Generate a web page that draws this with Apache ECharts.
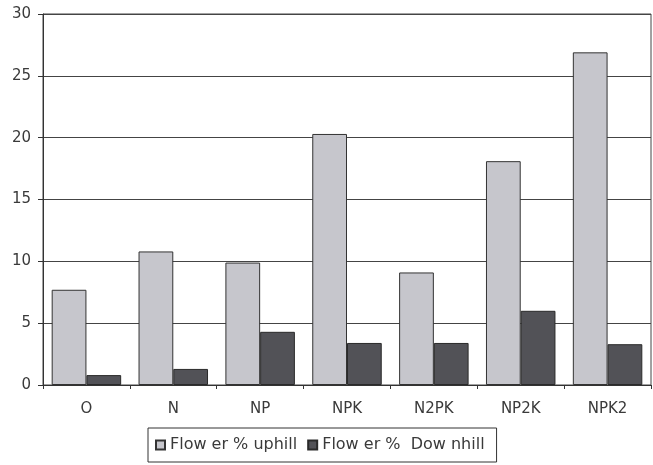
<!DOCTYPE html>
<html>
<head>
<meta charset="utf-8">
<script src="https://cdn.jsdelivr.net/npm/echarts@6/dist/echarts.min.js"></script>
<style>
  html, body { margin: 0; padding: 0; background: #fff; }
  #chart { width: 653px; height: 465px; }
</style>
</head>
<body>
<div id="chart"></div>
<script>
// Treatments and flowering percentages on the two slope positions
const categories = ['O', 'N', 'NP', 'NPK', 'N2PK', 'NP2K', 'NPK2'];
const uphill = [7.7, 10.8, 9.9, 20.3, 9.1, 18.1, 26.9];
const downhill = [0.8, 1.3, 4.3, 3.4, 3.4, 6.0, 3.3];
const seriesNames = ['Flow er % uphill', 'Flow er %  Dow nhill'];
const yTicks = { min: 0, max: 30, interval: 5 };

const font = '"DejaVu Sans", Verdana, sans-serif';
const chart = echarts.init(document.getElementById('chart'));

chart.setOption({
  animation: false,
  backgroundColor: '#ffffff',
  textStyle: { fontFamily: font },
  grid: {
    left: 43, right: 2, top: 14, bottom: 80,
    show: true, borderColor: '#444', borderWidth: 1
  },
  legend: {
    data: seriesNames,
    bottom: 3,
    left: 148,
    icon: 'rect',
    itemWidth: 9,
    itemHeight: 9,
    itemGap: 10,
    padding: [9, 12, 9, 7],
    borderColor: '#333',
    borderWidth: 1,
    textStyle: { fontFamily: font, fontSize: 16, color: '#3a3a3a' }
  },
  xAxis: {
    type: 'category',
    data: categories,
    axisLine: { lineStyle: { color: '#333', width: 1 } },
    axisTick: { show: true, length: 4, lineStyle: { color: '#333' } },
    axisLabel: { fontFamily: font, fontSize: 15, color: '#3a3a3a', margin: 17 }
  },
  yAxis: {
    type: 'value',
    min: yTicks.min, max: yTicks.max, interval: yTicks.interval,
    axisLine: { show: true, lineStyle: { color: '#333', width: 1 } },
    axisTick: { show: true, length: 5, lineStyle: { color: '#333' } },
    axisLabel: { fontFamily: font, fontSize: 15, color: '#3a3a3a', margin: 12 },
    splitLine: { show: true, lineStyle: { color: '#444', width: 1 } }
  },
  series: [
    {
      name: seriesNames[0],
      type: 'bar',
      data: uphill,
      barGap: '0%',
      barCategoryGap: '20%',
      itemStyle: { color: '#c6c6cc', borderColor: '#333', borderWidth: 1 }
    },
    {
      name: seriesNames[1],
      type: 'bar',
      data: downhill,
      itemStyle: { color: '#525257', borderColor: '#2a2a2a', borderWidth: 1 }
    }
  ]
});
</script>
</body>
</html>
